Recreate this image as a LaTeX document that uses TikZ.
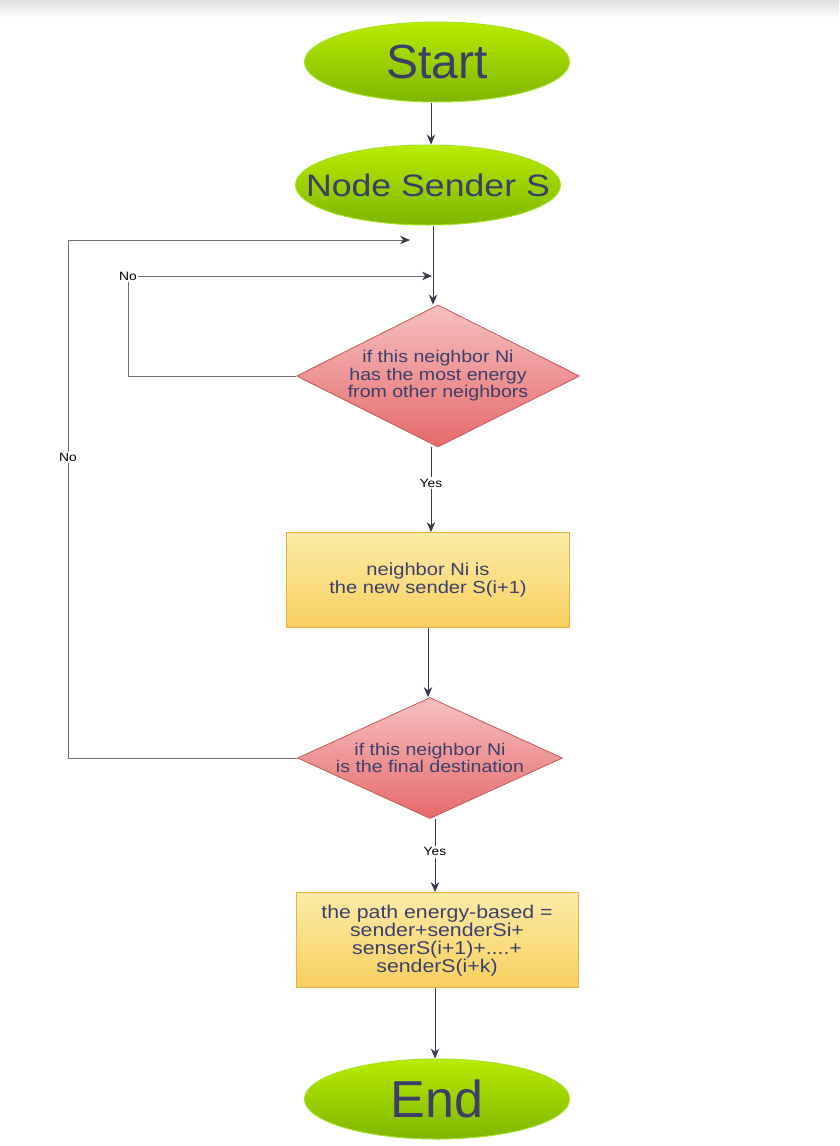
\documentclass[tikz,border=0pt]{standalone}
\usepackage{fontspec}
\setmainfont{Liberation Sans}
\newfontfamily\widesans[FakeStretch=1.15]{Liberation Sans}
\usepackage{tikz}
\usetikzlibrary{shapes.geometric,arrows.meta,calc}

\definecolor{inkblue}{HTML}{3B3F6A}
\definecolor{linegray}{HTML}{3A3A48}
\definecolor{loopgray}{HTML}{6E6E78}
\definecolor{limetop}{HTML}{B8EC00}
\definecolor{limebot}{HTML}{7DB600}
\definecolor{limeedge}{HTML}{A6E020}
\definecolor{rosetop}{HTML}{F6C0C0}
\definecolor{rosebot}{HTML}{E66A6A}
\definecolor{roseedge}{HTML}{C85858}
\definecolor{sandtop}{HTML}{FDEBA8}
\definecolor{sandbot}{HTML}{F8CF5E}
\definecolor{sandedge}{HTML}{E2B444}

\tikzset{
  terminal/.style={ellipse,minimum width=265pt,minimum height=80pt,inner sep=0pt,
    top color=limetop,bottom color=limebot,draw=limeedge,line width=1pt},
  decision/.style={diamond,aspect=2,inner sep=0pt,top color=rosetop,bottom color=rosebot,
    draw=roseedge,line width=0.8pt},
  process/.style={rectangle,inner sep=0pt,top color=sandtop,bottom color=sandbot,
    draw=sandedge,line width=0.8pt},
  caption/.style={align=center,text=inkblue,inner sep=0pt,
    font=\widesans\fontsize{17}{17.5}\selectfont},
  bigcaption/.style={text=inkblue,inner sep=0pt},
  flow/.style={draw=linegray,line width=0.9pt,-{Stealth[length=10pt,width=8.5pt]}},
  loop/.style={draw=loopgray,line width=0.9pt,-{Stealth[length=10pt,width=8.5pt,color=linegray]}},
  answer/.style={fill=white,inner sep=1.5pt,text=black,font=\widesans\fontsize{12}{13}\selectfont}
}

\begin{document}
\begin{tikzpicture}[x=1pt,y=-1pt]
  \useasboundingbox (0,0) rectangle (839,1146);
  \shade[top color=black!12,bottom color=white] (0,0) rectangle (839,18);

  % main column
  \node[terminal,label={[bigcaption,font=\fontsize{48}{50}\selectfont]center:Start}] (start) at (437,62) {};
  \node[terminal,label={[bigcaption,font=\widesans\fontsize{31}{33}\selectfont]center:Node Sender S}] (sender) at (428,185) {};
  \node[decision,minimum width=283pt,minimum height=142pt,
    label={[caption]center:if this neighbor Ni\\has the most energy\\from other neighbors}] (dec1) at (438,376) {};
  \node[process,minimum width=283pt,minimum height=95pt,
    label={[caption,font=\widesans\fontsize{17.5}{17.5}\selectfont]center:neighbor Ni is\\the new sender S(i+1)}] (newsend) at (428,580) {};
  \node[decision,minimum width=265pt,minimum height=121pt,
    label={[caption]center:if this neighbor Ni\\is the final destination}] (dec2) at (430,758) {};
  \node[process,minimum width=282pt,minimum height=95pt,
    label={[caption,font=\widesans\fontsize{18.5}{18}\selectfont,yshift=-1pt]center:the path energy-based =\\sender+senderSi+\\senserS(i+1)+....+\\senderS(i+k)}] (path) at (437,940) {};
  \node[terminal,label={[bigcaption,font=\fontsize{52}{54}\selectfont]center:End}] (stop) at (437,1099) {};

  % loop ends
  \coordinate (farleft) at (68,240);
  \coordinate (into1) at (410,240);
  \coordinate (nearleft) at (128,276);
  \coordinate (into2) at (432,276);

  % connectors
  \draw[flow] (start.south -| 431,0) -- (sender.north -| 431,0);
  \draw[flow] (sender.south -| 433,0) -- (dec1.north -| 433,0);
  \draw[flow] (dec1.south -| 431,0) -- node[answer,pos=0.42] {Yes} (newsend.north -| 431,0);
  \draw[flow] (newsend.south) -- (dec2.north -| newsend.south);
  \draw[flow] (dec2.south -| 435,0) -- node[answer,pos=0.45] {Yes} (path.north -| 435,0);
  \draw[flow] (path.south -| 435,0) -- (stop.north -| 435,0);

  % back loops
  \draw[loop] (dec2.west) -| node[answer,pos=0.79] {No} (farleft) -- (into1);
  \draw[loop] (dec1.west) -| (nearleft) -- (into2);
  \node[answer] (nolabel) at (nearleft) {No};
\end{tikzpicture}
\end{document}
